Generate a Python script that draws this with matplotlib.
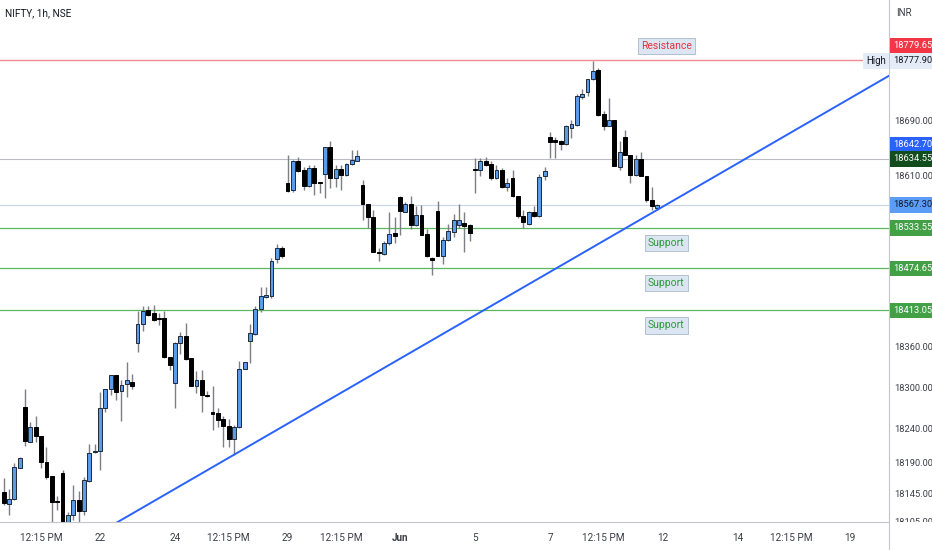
import numpy as np
import pandas as pd
import matplotlib
matplotlib.use("Agg")
import matplotlib.pyplot as plt
import matplotlib.transforms as mtransforms
from matplotlib.patches import Rectangle

plt.rcParams['font.family'] = ['Roboto', 'DejaVu Sans']

symbol = "NIFTY, 1h, NSE"
currency = "INR"

# hourly NIFTY candles, first one is 17 May 12:15, one row per session
opens = [
    18147, 18130, 18137, 18183,
    18272, 18221, 18243, 18230, 18192, 18171, 18134,
    18176, 18095, 18114, 18136, 18120, 18163, 18206,
    18207, 18270, 18298, 18319, 18295, 18305, 18309,
    18366, 18393, 18413, 18409, 18401, 18402, 18345,
    18307, 18365, 18376, 18343, 18303, 18312, 18289,
    18265, 18263, 18254, 18244, 18225, 18242, 18328,
    18369, 18378, 18415, 18433, 18434, 18488, 18505,
    18600, 18589, 18632, 18619, 18595, 18622, 18600,
    18612, 18652, 18606, 18620, 18611, 18627, 18632,
    18596, 18568, 18550, 18499, 18495, 18511, 18526,
    18579, 18557, 18569, 18538, 18553, 18525, 18490,
    18558, 18493, 18516, 18527, 18538, 18541, 18538,
    18619, 18618, 18632, 18627, 18606, 18618, 18593,
    18607, 18580, 18551, 18540, 18557, 18551, 18609,
    18667, 18662, 18661, 18656, 18680, 18684, 18725,
    18732, 18751, 18765, 18700, 18683, 18692, 18623,
    18666, 18640, 18611, 18634, 18609, 18574, 18563,
]
highs = [
    18168, 18152, 18190, 18199,
    18298, 18250, 18259, 18230, 18213, 18171, 18141,
    18180, 18118, 18158, 18149, 18170, 18218, 18218,
    18294, 18298, 18319, 18319, 18311, 18337, 18320,
    18412, 18420, 18419, 18421, 18410, 18412, 18345,
    18367, 18382, 18394, 18344, 18325, 18326, 18295,
    18303, 18271, 18258, 18254, 18246, 18339, 18338,
    18393, 18419, 18447, 18448, 18489, 18510, 18507,
    18640, 18633, 18638, 18623, 18625, 18625, 18601,
    18652, 18661, 18625, 18625, 18628, 18647, 18648,
    18604, 18569, 18560, 18505, 18514, 18557, 18550,
    18580, 18571, 18580, 18566, 18567, 18532, 18491,
    18573, 18521, 18539, 18554, 18568, 18557, 18539,
    18636, 18636, 18638, 18631, 18625, 18621, 18607,
    18618, 18581, 18560, 18558, 18566, 18612, 18623,
    18674, 18667, 18662, 18684, 18692, 18729, 18737,
    18752, 18777.9, 18768, 18704, 18723, 18692, 18661,
    18677, 18641, 18640, 18645, 18609, 18593, 18568,
]
lows = [
    18129, 18114, 18136, 18182,
    18215, 18220, 18221, 18182, 18167, 18102, 18121,
    18085, 18088, 18107, 18099, 18114, 18162, 18205,
    18180, 18265, 18289, 18282, 18252, 18287, 18298,
    18352, 18383, 18405, 18397, 18392, 18344, 18326,
    18271, 18350, 18341, 18302, 18293, 18265, 18287,
    18238, 18243, 18214, 18214, 18202, 18241, 18328,
    18336, 18377, 18411, 18431, 18431, 18482, 18490,
    18586, 18586, 18615, 18589, 18593, 18582, 18584,
    18577, 18592, 18593, 18589, 18609, 18626, 18632,
    18545, 18534, 18498, 18486, 18494, 18509, 18511,
    18523, 18557, 18532, 18536, 18523, 18491, 18465,
    18493, 18481, 18515, 18521, 18534, 18498, 18514,
    18584, 18610, 18624, 18604, 18605, 18592, 18587,
    18579, 18548, 18533, 18538, 18549, 18550, 18604,
    18636, 18636, 18648, 18655, 18665, 18683, 18722,
    18726, 18750, 18698, 18677, 18682, 18624, 18618,
    18640, 18599, 18610, 18609, 18572, 18560, 18560,
]
closes = [
    18131, 18137, 18184, 18198,
    18222, 18242, 18230, 18192, 18170, 18133, 18133,
    18092, 18114, 18136, 18120, 18165, 18204, 18208,
    18270, 18298, 18319, 18294, 18304, 18311, 18303,
    18393, 18412, 18406, 18399, 18400, 18345, 18333,
    18365, 18375, 18342, 18303, 18312, 18289, 18288,
    18261, 18253, 18244, 18225, 18242, 18328, 18337,
    18380, 18415, 18434, 18435, 18486, 18505, 18492,
    18588, 18632, 18617, 18595, 18622, 18600, 18599,
    18652, 18607, 18620, 18611, 18627, 18633, 18639,
    18568, 18550, 18499, 18497, 18511, 18525, 18522,
    18559, 18569, 18538, 18552, 18524, 18492, 18487,
    18493, 18516, 18529, 18545, 18545, 18537, 18526,
    18618, 18632, 18626, 18606, 18618, 18593, 18600,
    18581, 18551, 18542, 18557, 18551, 18608, 18617,
    18660, 18660, 18656, 18682, 18686, 18726, 18729,
    18751, 18763, 18699, 18683, 18692, 18624, 18645,
    18640, 18611, 18634, 18610, 18575, 18565, 18567.3,
]

sessions = pd.bdate_range("2023-05-17", "2023-06-21")
bars_per_day = 7
first_slot = 3  # 12:15 bar of the first session

resistance = 18779.65
session_high = 18777.90
supports = [18533.55, 18474.65, 18413.05]
grey_level = 18634.55
blue_level = 18642.70
last_price = closes[-1]

price_ticks = [18690, 18610, 18360, 18300, 18240, 18190, 18145, 18105]

tick_days = ["2023-05-18", "2023-05-22", "2023-05-24", "2023-05-25", "2023-05-29",
             "2023-05-30", "2023-06-01", "2023-06-05", "2023-06-07", "2023-06-08",
             "2023-06-12", "2023-06-14", "2023-06-15", "2023-06-19"]
tick_text = ["12:15 PM", "22", "24", "12:15 PM", "29", "12:15 PM", "Jun", "5", "7",
             "12:15 PM", "12", "14", "12:15 PM", "19"]

# trend line drawn through the lows of these two candles (index in the arrays)
trend_anchors = [43, 122]

# ---------------------------------------------------------------------------
o = np.array(opens, dtype=float)
h = np.array(highs, dtype=float)
l = np.array(lows, dtype=float)
c = np.array(closes, dtype=float)
x = first_slot + np.arange(len(o))

day_pos = {d.strftime("%Y-%m-%d"): k * bars_per_day for k, d in enumerate(sessions)}
tick_pos = [day_pos[d] + (3 if t.endswith("PM") else 0) for d, t in zip(tick_days, tick_text)]

fig = plt.figure(figsize=(9.32, 5.5), dpi=100)
ax = fig.add_axes([0, 28 / 550, 889 / 932, 522 / 550])
ax.set_xlim(bars_per_day - 4.667, bars_per_day + 161.28)
ax.set_ylim(18103.7, 18866.9)

# candles
up = c >= o
ax.vlines(x, l, h, color="#7d7f86", lw=1, zorder=2)
body_lo = np.minimum(o, c)
body_h = np.maximum(np.abs(c - o), 1.3)
ax.bar(x[up], body_h[up], bottom=body_lo[up], width=0.72, color="#5b9be8",
       edgecolor="#1d2a3c", lw=0.7, zorder=3)
ax.bar(x[~up], body_h[~up], bottom=body_lo[~up], width=0.72, color="#000000",
       edgecolor="#000000", lw=0.7, zorder=3)

# horizontal levels
ax.axhline(resistance, color="#f08a93", lw=1, zorder=1)
for s in supports:
    ax.axhline(s, color="#5cb85f", lw=0.9, zorder=1)
ax.axhline(grey_level, color="#b9bcc3", lw=0.8, zorder=1)
ax.axhline(last_price, color="#c9d6ea", lw=0.8, zorder=1)

# trend line
xa, xb = x[trend_anchors[0]], x[trend_anchors[1]]
ya, yb = l[trend_anchors[0]], l[trend_anchors[1]]
slope = (yb - ya) / (xb - xa)
xs = np.array(ax.get_xlim())
ax.plot(xs, ya + slope * (xs - xa), color="#2962ff", lw=1.4, zorder=4)

# level captions
label_x = 126.7
box = dict(boxstyle="square,pad=0.3", fc="#dbe6f2", ec="#a9b8c9", lw=0.6)
ax.annotate("Resistance", xy=(label_x, resistance), xytext=(0, 14),
            textcoords="offset pixels", ha="center", va="center",
            color="#e8323f", fontsize=7.5, bbox=box)
for s in supports:
    ax.annotate("Support", xy=(label_x, s), xytext=(0, -15),
                textcoords="offset pixels", ha="center", va="center",
                color="#2e9a3a", fontsize=7.5, bbox=box)

# axes styling
for side in ["top", "left"]:
    ax.spines[side].set_visible(False)
ax.spines["right"].set_color("#c4c6cc")
ax.spines["bottom"].set_color("#c4c6cc")
ax.yaxis.tick_right()
ax.set_yticks(price_ticks)
ax.set_yticklabels([f"{p:.2f}" for p in price_ticks])
ax.tick_params(axis="y", length=0, pad=4, labelsize=6.7, labelcolor="#3b3e46")
ax.set_xticks(tick_pos)
ax.set_xticklabels(tick_text)
ax.tick_params(axis="x", length=0, pad=8, labelsize=7.2, labelcolor="#3b3e46")
for lab in ax.get_xticklabels():
    if lab.get_text() == "Jun":
        lab.set_fontweight("bold")

# price tags on the scale
trans = mtransforms.blended_transform_factory(ax.transAxes, ax.transData)
tags = [
    (resistance, 14, "#f23645", "white"),
    (session_high, 0, "#e3ecf7", "#131722"),
    (blue_level, 9, "#2962ff", "white"),
    (grey_level, 0, "#124d1d", "white"),
    (last_price, 0, "#5b9cf6", "#131722"),
    (supports[0], 0, "#43a047", "white"),
    (supports[1], 0, "#43a047", "white"),
    (supports[2], 0, "#43a047", "white"),
]
for price, dy, bg, fg in tags:
    ax.annotate(f"{price:.2f}", xy=(1, price), xycoords=trans, xytext=(4, dy),
                textcoords="offset pixels", ha="left", va="center", fontsize=6.7,
                color=fg, annotation_clip=False, zorder=6,
                bbox=dict(boxstyle="square,pad=0.35", fc=bg, ec="none"))
ax.annotate("High", xy=(1, session_high), xycoords=trans, xytext=(-3, 0),
            textcoords="offset pixels", ha="right", va="center", fontsize=6.9,
            color="#131722", annotation_clip=False, zorder=6,
            bbox=dict(boxstyle="square,pad=0.3", fc="#e3ecf7", ec="none"))

# hide the part of the scale under the time axis
fig.add_artist(Rectangle((889 / 932, 0), 43 / 932, 28 / 550, transform=fig.transFigure,
                         fc="white", ec="none", zorder=5))
fig.add_artist(plt.Line2D([889 / 932, 889 / 932], [0, 28 / 550], transform=fig.transFigure,
                          color="#c4c6cc", lw=0.8, zorder=6))

fig.text(5 / 932, 1 - 13 / 550, symbol, fontsize=7.2, color="#131722", va="center")
fig.text(896 / 932, 1 - 13 / 550, currency, fontsize=7, color="#3b3e46", va="center")

fig.savefig("out.png", dpi=100, facecolor="white")
